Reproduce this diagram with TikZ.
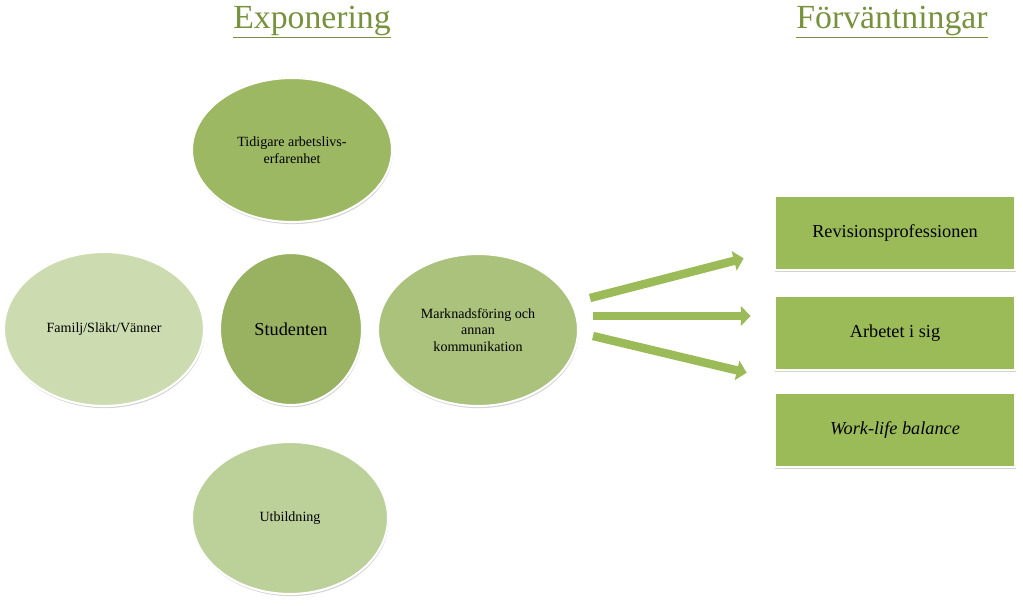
\documentclass[tikz,border=0pt]{standalone}
\usepackage{fontspec}
\setmainfont{Liberation Serif}
\usetikzlibrary{shadows,arrows.meta}
\definecolor{ttl}{HTML}{76923C}
\definecolor{boxg}{HTML}{9BBB59}
\definecolor{e1}{HTML}{9DB862}
\definecolor{e2}{HTML}{CCDCB0}
\definecolor{e3}{HTML}{98B262}
\definecolor{e4}{HTML}{AAC27C}
\definecolor{e5}{HTML}{BCD09A}
\tikzset{
  ell/.style={ellipse,draw=white,line width=1.5pt,align=center,font=\fontsize{10}{12}\selectfont,
    drop shadow={shadow xshift=0.5pt,shadow yshift=-1.5pt,opacity=0.35}},
  rbox/.style={rectangle,fill=boxg,draw=white,line width=1.5pt,minimum width=6.02cm,minimum height=1.85cm,
    font=\fontsize{13}{15}\selectfont,drop shadow={shadow xshift=0.5pt,shadow yshift=-1.5pt,opacity=0.35}},
  garrow/.style={draw=white,line width=9pt,-{Triangle[length=9pt,width=18pt]},
    postaction={draw=boxg,line width=6pt,shorten >=1pt,-{Triangle[length=7pt,width=14pt]}}},
  ttlstyle/.style={text=ttl,font=\fontsize{24}{28}\selectfont}
}
\usetikzlibrary{shapes.geometric}
\begin{document}
\begin{tikzpicture}[x=0.025cm,y=-0.025cm]
\useasboundingbox (0,0) rectangle (1023,605);
\node[ttlstyle] (t1) at (312,22) {\underline{Exponering}};
\node[ttlstyle] (t2) at (892,22) {\underline{Förväntningar}};
\node[ell,fill=e1,minimum width=5cm,minimum height=3.6cm] (tid) at (292,150) {Tidigare arbetslivs-\\erfarenhet};
\node[ell,fill=e2,minimum width=5cm,minimum height=3.85cm] (fam) at (104,329) {Familj/Släkt/Vänner};
\node[ell,fill=e3,minimum width=3.55cm,minimum height=3.8cm,font=\fontsize{13}{15}\selectfont] (stu) at (291,329) {Studenten};
\node[ell,fill=e4,minimum width=5cm,minimum height=3.8cm] (mark) at (478,330) {Marknadsföring och\\annan\\kommunikation};
\node[ell,fill=e5,minimum width=4.9cm,minimum height=3.8cm] (utb) at (290,518) {Utbildning};
\node[rbox] (rev) at (895,233) {Revisionsprofessionen};
\node[rbox] (arb) at (895,333) {Arbetet i sig};
\node[rbox] (wlb) at (895,430) {\itshape Work-life balance};
\coordinate (a1s) at (590,298); \coordinate (a1e) at (745,258);
\coordinate (a2s) at (593,316); \coordinate (a2e) at (752,316);
\coordinate (a3s) at (593,336); \coordinate (a3e) at (748,373);
\draw[garrow] (a1s) -- (a1e);
\draw[garrow] (a2s) -- (a2e);
\draw[garrow] (a3s) -- (a3e);
\end{tikzpicture}
\end{document}
